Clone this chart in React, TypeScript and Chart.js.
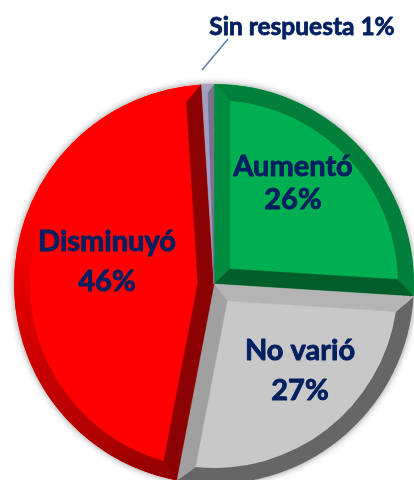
import React, { useEffect, useRef } from "react";
import { Chart, registerables } from "chart.js";

Chart.register(...registerables);

const categories = ["Aumentó", "No varió", "Disminuyó", "Sin respuesta"];
const values = [26, 27, 46, 1];
const faceColors = ["#00B050", "#C8C8C8", "#FF0000", "#9A94B8"];
const startSideColors = ["#008C40", "#B4B4B4", "#8B0000", "#A39DBE"];
const endSideColors = ["#005E2B", "#A0A0A0", "#8B0000", "#77728F"];
const outerColors = ["#007F3A", "#666666", "#C80000", "#A9A4C2"];

const bevelPlugin = {
  id: "bevel",
  beforeDatasetsDraw(chart: any) {
    const a = chart.getDatasetMeta(0).data[0];
    const { x, y, outerRadius } = a.getProps(["x", "y", "outerRadius"], true);
    const c = chart.ctx;
    c.save();
    c.shadowColor = "rgba(0,0,0,0.45)";
    c.shadowBlur = 7;
    c.fillStyle = "#fff";
    c.beginPath();
    c.arc(x, y, outerRadius, 0, Math.PI * 2);
    c.fill();
    c.restore();
  },
  afterDatasetsDraw(chart: any) {
    const c = chart.ctx;
    const w = 16;
    chart.getDatasetMeta(0).data.forEach((el: any, i: number) => {
      const { x, y, startAngle: s, endAngle: e, outerRadius: R } = el.getProps(
        ["x", "y", "startAngle", "endAngle", "outerRadius"],
        true,
      );
      const half = (e - s) / 2;
      const mid = s + half;
      const pt = (ang: number, r: number) => [x + r * Math.cos(ang), y + r * Math.sin(ang)];
      const poly = (pts: number[][], col: any) => {
        c.fillStyle = col;
        c.strokeStyle = col;
        c.lineWidth = 0.5;
        c.beginPath();
        pts.forEach((p, k) => (k ? c.lineTo(p[0], p[1]) : c.moveTo(p[0], p[1])));
        c.closePath();
        c.fill();
        c.stroke();
      };
      if (half * R < w * 1.5) {
        // Narrow slice: its two sides meet along the middle.
        const tip = pt(mid, R - w / 2);
        poly([[x, y], pt(s, R), tip], startSideColors[i]);
        poly([[x, y], tip, pt(e, R)], endSideColors[i]);
        poly([pt(s, R), pt(e, R), tip], outerColors[i]);
        return;
      }
      const inner = pt(mid, w / Math.sin(half));
      const d = Math.asin(w / (R - w));
      const a0 = s + d;
      const a1 = e - d;
      const corner0 = pt(a0, R - w);
      const corner1 = pt(a1, R - w);
      let outer: any = outerColors[i];
      if (categories[i] === "Disminuyó") {
        outer = c.createLinearGradient(0, y + R, 0, y - R);
        outer.addColorStop(0, "#8B0000");
        outer.addColorStop(0.12, "#B00000");
        outer.addColorStop(0.4, "#D80000");
        outer.addColorStop(0.7, "#FF0000");
        outer.addColorStop(1, "#FF0000");
      }
      c.fillStyle = outer;
      c.beginPath();
      c.arc(x, y, R, s, e);
      c.lineTo(corner1[0], corner1[1]);
      c.arc(x, y, R - w, a1, a0, true);
      c.closePath();
      c.fill();
      poly([[x, y], pt(s, R), corner0, inner], startSideColors[i]);
      poly([[x, y], inner, corner1, pt(e, R)], endSideColors[i]);
    });
  },
};

const labelPlugin = {
  id: "sliceLabels",
  afterDraw(chart: any) {
    const c = chart.ctx;
    c.save();
    c.fillStyle = "#002060";
    c.strokeStyle = "#002060";
    c.lineJoin = "round";
    c.textAlign = "center";
    c.textBaseline = "middle";
    const text = (t: string, px: number, py: number) => {
      c.fillText(t, px, py);
      c.strokeText(t, px, py);
    };
    c.font = 'bold 29px Lato, "Open Sans", sans-serif';
    c.lineWidth = 0.9;
    const spots = [
      [293, 167, 200],
      [300, 351, 391],
      [107, 242, 282],
    ];
    spots.forEach((p, i) => {
      text(categories[i], p[0], p[1]);
      text(`${values[i]}%`, p[0], p[2]);
    });
    c.font = 'bold 24.5px Lato, "Open Sans", sans-serif';
    c.lineWidth = 0.8;
    text(`${categories[3]} ${values[3]}%`, 302, 27);
    c.strokeStyle = "#5B7FA8";
    c.lineWidth = 1.5;
    c.beginPath();
    c.moveTo(202, 70);
    c.lineTo(228, 39);
    c.stroke();
    c.restore();
  },
};

export default function App() {
  const ref = useRef<HTMLCanvasElement>(null);
  useEffect(() => {
    document.body.style.margin = "0";
    const chart = new Chart(ref.current!, {
      type: "pie",
      data: {
        labels: categories,
        datasets: [{ data: values, backgroundColor: faceColors, borderWidth: 0 }],
      },
      options: {
        animation: false,
        responsive: false,
        layout: { padding: 14 },
        plugins: { legend: { display: false }, tooltip: { enabled: false } },
      },
      plugins: [bevelPlugin, labelPlugin],
    } as any);
    return () => chart.destroy();
  }, []);
  return (
    <div style={{ position: "absolute", left: 0, top: 0, width: 414, height: 480, overflow: "hidden", background: "#fff" }}>
      <canvas ref={ref} width={428} height={568} style={{ display: "block" }} />
    </div>
  );
}
